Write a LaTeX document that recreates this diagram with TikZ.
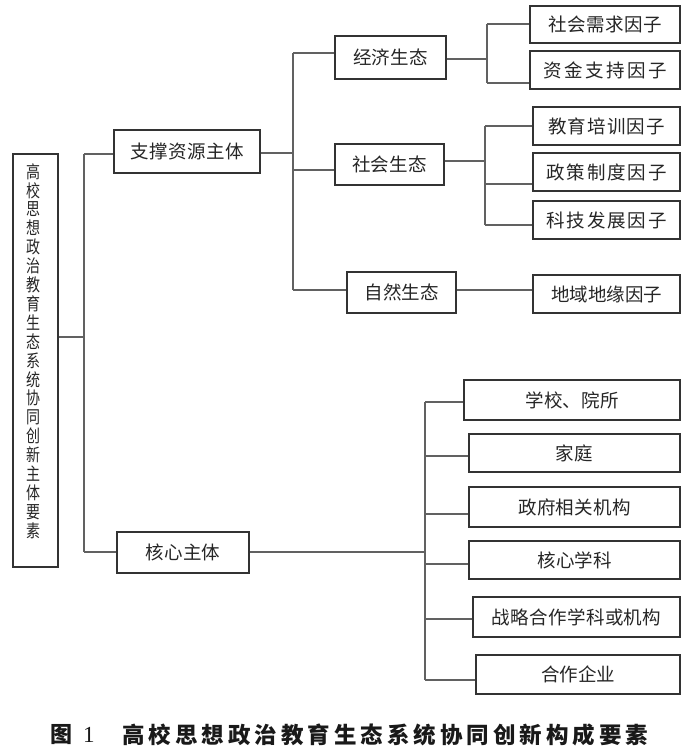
\documentclass[tikz,border=0pt]{standalone}
\usepackage{fontspec}
\setmainfont{Liberation Serif}
\newfontfamily\cjk{Noto Sans CJK SC}
\newfontfamily\cjknarrow[FakeStretch=0.8]{Noto Sans CJK SC}
\makeatletter
\def\spacedtext#1#2{\def\spc@k{\kern#1\relax}\spc@loop#2\relax}
\def\spc@loop#1#2{#1\ifx\relax#2\expandafter\@gobble\else\spc@k\expandafter\@firstofone\fi{\spc@loop#2}}
\makeatother
\tikzset{
  bx/.style={draw=black!80, line width=1.4pt, inner sep=0pt, text=black!85,
    font=\cjk\fontsize{18.5}{20}\selectfont},
  ln/.style={draw=black!62, line width=1.2pt},
}
\begin{document}
\begin{tikzpicture}[x=1pt,y=-1pt]
\useasboundingbox (0,0) rectangle (700,754);
\fill[white] (0,0) rectangle (700,754);

% root
\node[bx, minimum width=45pt, minimum height=413pt] (root) at (35.5,360.5) {};
\node[inner sep=0pt, text=black!85, align=center,
  font=\cjknarrow\fontsize{17.5}{18.9}\selectfont] (roottext) at (34,351)
  {高\\校\\思\\想\\政\\治\\教\\育\\生\\态\\系\\统\\协\\同\\创\\新\\主\\体\\要\\素};

% level 1
\node[bx, minimum width=146pt, minimum height=43pt] (zc) at (187,151.5) {\spacedtext{0.5pt}{支撑资源主体}};
\node[bx, minimum width=132pt, minimum height=41pt] (hx) at (183,552.5) {\spacedtext{0.2pt}{核心主体}};

% level 2
\node[bx, minimum width=111pt, minimum height=43pt] (jj) at (390.5,57.5) {\spacedtext{0.2pt}{经济生态}};
\node[bx, minimum width=109pt, minimum height=41pt] (sh) at (389.5,164.5) {\spacedtext{0.2pt}{社会生态}};
\node[bx, minimum width=109pt, minimum height=41pt] (zr) at (401.5,292.5) {\spacedtext{0pt}{自然生态}};

% factors
\node[bx, minimum width=150pt, minimum height=37pt] (f1) at (605,24.5) {\spacedtext{0.5pt}{社会需求因子}};
\node[bx, minimum width=150pt, minimum height=38pt] (f2) at (605,70) {\spacedtext{2.5pt}{资金支持因子}};
\node[bx, minimum width=147pt, minimum height=38pt] (f3) at (606.5,126) {\spacedtext{1.2pt}{教育培训因子}};
\node[bx, minimum width=147pt, minimum height=38pt] (f4) at (606.5,172) {\spacedtext{1.9pt}{政策制度因子}};
\node[bx, minimum width=147pt, minimum height=38pt] (f5) at (606.5,220) {\spacedtext{1.9pt}{科技发展因子}};
\node[bx, minimum width=147pt, minimum height=38pt] (f6) at (606.5,294) {\spacedtext{0pt}{地域地缘因子}};

% core subjects
\node[bx, minimum width=216pt, minimum height=40pt] (b1) at (572,400) {\spacedtext{0.2pt}{学校、院所}};
\node[bx, minimum width=211pt, minimum height=38pt] (b2) at (574.5,453) {\spacedtext{0.5pt}{家庭}};
\node[bx, minimum width=211pt, minimum height=40pt] (b3) at (574.5,507) {\spacedtext{0.2pt}{政府相关机构}};
\node[bx, minimum width=211pt, minimum height=38pt] (b4) at (574.5,560) {\spacedtext{0pt}{核心学科}};
\node[bx, minimum width=207pt, minimum height=40pt] (b5) at (576.5,617) {\spacedtext{0.4pt}{战略合作学科或机构}};
\node[bx, minimum width=204pt, minimum height=39pt] (b6) at (578,674.5) {\spacedtext{0pt}{合作企业}};

% bus coordinates
\coordinate (trTop) at (84,154);
\coordinate (trMid) at (84,337);
\coordinate (trBot) at (84,552);
\coordinate (zcIn) at (293,153);
\coordinate (zcTop) at (293,53);
\coordinate (zcSh) at (293,170);
\coordinate (zcBot) at (293,290);
\coordinate (jjIn) at (487,59);
\coordinate (jjTop) at (487,24);
\coordinate (jjBot) at (487,83);
\coordinate (shIn) at (485,161);
\coordinate (shTop) at (485,126);
\coordinate (shMid) at (485,184);
\coordinate (shBot) at (485,225);
\coordinate (hxIn) at (425,552);
\coordinate (hx1) at (425,402);
\coordinate (hx2) at (425,456);
\coordinate (hx3) at (425,514);
\coordinate (hx4) at (425,564);
\coordinate (hx5) at (425,619);
\coordinate (hx6) at (425,680);

% trunk
\draw[ln] (root.east |- trMid) -- (trMid);
\draw[ln] (trTop) -- (trBot);
\draw[ln] (trTop) -- (zc.west |- trTop);
\draw[ln] (trBot) -- (hx.west |- trBot);

% support branch
\draw[ln] (zc.east |- zcIn) -- (zcIn);
\draw[ln] (zcTop) -- (zcBot);
\draw[ln] (zcTop) -- (jj.west |- zcTop);
\draw[ln] (zcSh) -- (sh.west |- zcSh);
\draw[ln] (zcBot) -- (zr.west |- zcBot);

\draw[ln] (jj.east |- jjIn) -- (jjIn);
\draw[ln] (jjTop) -- (jjBot);
\draw[ln] (jjTop) -- (f1.west |- jjTop);
\draw[ln] (jjBot) -- (f2.west |- jjBot);

\draw[ln] (sh.east |- shIn) -- (shIn);
\draw[ln] (shTop) -- (shBot);
\draw[ln] (shTop) -- (f3.west |- shTop);
\draw[ln] (shMid) -- (f4.west |- shMid);
\draw[ln] (shBot) -- (f5.west |- shBot);

\draw[ln] (zr.east |- zcBot) -- (f6.west |- zcBot);

% core branch
\draw[ln] (hx.east |- hxIn) -- (hxIn);
\draw[ln] (hx1) -- (hx6);
\draw[ln] (hx1) -- (b1.west |- hx1);
\draw[ln] (hx2) -- (b2.west |- hx2);
\draw[ln] (hx3) -- (b3.west |- hx3);
\draw[ln] (hx4) -- (b4.west |- hx4);
\draw[ln] (hx5) -- (b5.west |- hx5);
\draw[ln] (hx6) -- (b6.west |- hx6);

% caption
\node[anchor=west, inner sep=0pt, text=black!90] (cap1) at (50,735)
  {{\cjk\bfseries\fontsize{22}{22}\selectfont 图}\hspace{11pt}{\rmfamily\fontsize{23}{23}\selectfont 1}};
\node[anchor=west, inner sep=0pt, text=black!90, font=\cjk\bfseries\fontsize{22.5}{22.5}\selectfont] (cap2) at (122,735)
  {\spacedtext{4pt}{高校思想政治教育生态系统协同创新构成要素}};
\end{tikzpicture}
\end{document}
